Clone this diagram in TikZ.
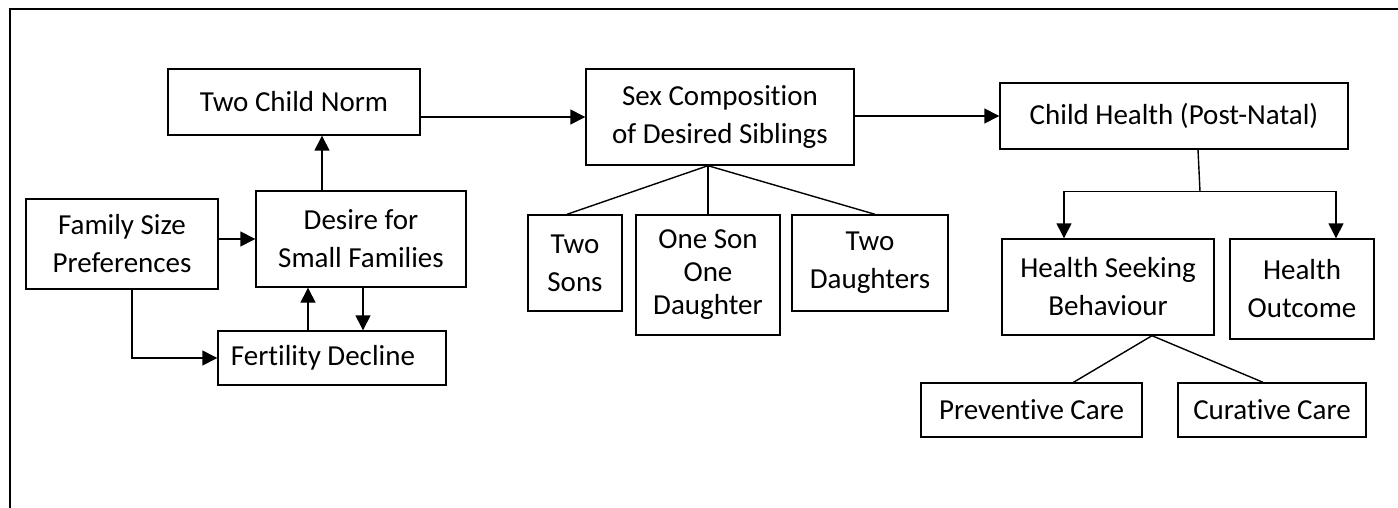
\documentclass[tikz,border=0pt]{standalone}
\usepackage{fontspec}
\setmainfont{Carlito}[Ligatures=NoCommon]
\usepackage{tikz}
\usetikzlibrary{arrows.meta}

\begin{document}
\begin{tikzpicture}[x=1pt, y=-1pt, main/.style = {draw, line width=1.4pt, align=center, inner sep=0pt, font=\fontsize{29}{38}\selectfont}, arr/.style = {line width=1.4pt, -{Triangle[length=15pt,width=15pt]}}, ln/.style = {line width=1.4pt}]
\useasboundingbox (0,0) rectangle (1398,508);
\draw[line width=2.2pt] (10,530) -- (10,9) -- (1420,9);
\node[main, minimum width=252pt, minimum height=66pt] (norm) at (294,102) {Two Child Norm};
\node[main, minimum width=210pt, minimum height=96pt] (desire) at (361,239) {Desire for\\Small Families};
\node[main, minimum width=192pt, minimum height=90pt] (famsize) at (122,244) {Family Size\\Preferences};
\node[main, minimum width=228pt, minimum height=54pt] (fert) at (332,358) {Fertility Decline\hspace*{18pt}};
\node[main, minimum width=268pt, minimum height=96pt] (sexcomp) at (720,117) {Sex Composition\\of Desired Siblings};
\node[main, minimum width=94pt, minimum height=96pt] (sons) at (575,263) {Two\\Sons};
\node[main, minimum width=144pt, minimum height=120pt, font=\fontsize{29}{33}\selectfont] (mixed) at (708,275) {One Son\\One\\Daughter};
\node[main, minimum width=156pt, minimum height=96pt] (daughters) at (870,263) {Two\\Daughters};
\node[main, minimum width=348pt, minimum height=66pt] (child) at (1174,116) {Child Health (Post-Natal)};
\node[main, minimum width=212pt, minimum height=96pt] (seeking) at (1108,287) {Health Seeking\\Behaviour};
\node[main, minimum width=144pt, minimum height=100pt] (outcome) at (1302,289) {Health\\Outcome};
\node[main, minimum width=221pt, minimum height=54pt] (prev) at (1031.5,410) {Preventive Care};
\node[main, minimum width=188pt, minimum height=54pt] (cure) at (1272,410) {Curative Care};
% left part
\draw[arr] ([xshift=-39pt]desire.north) -- ([xshift=-39pt]desire.north |- norm.south);
\draw[arr] (famsize.east |- desire.west) -- (desire.west);
\draw[arr] ([xshift=10pt]famsize.south) |- (fert.west);
\draw[arr] ([xshift=-24pt]fert.north) -- ([xshift=-24pt]fert.north |- desire.south);
\draw[arr] ([xshift=2pt]desire.south) -- ([xshift=2pt]desire.south |- fert.north);
\draw[arr] (norm.east |- sexcomp.west) -- (sexcomp.west);
\draw[arr] (sexcomp.east |- child.west) -- (child.west);
% siblings
\coordinate (split) at ([xshift=-12pt]sexcomp.south);
\draw[ln] (split) -- ([xshift=-8pt]sons.north);
\draw[ln] (split) -- (mixed.north);
\draw[ln] (split) -- ([xshift=5pt]daughters.north);
% health
\coordinate (hsplit) at ([xshift=26pt,yshift=-42pt]child.south);
\draw[ln] ([xshift=24pt]child.south) -- (hsplit);
\draw[arr] (hsplit) -| ([xshift=-44pt]seeking.north);
\draw[arr] (hsplit) -| ([xshift=34pt]outcome.north);
\coordinate (csplit) at ([xshift=44pt]seeking.south);
\draw[ln] (csplit) -- ([xshift=42pt]prev.north);
\draw[ln] (csplit) -- ([xshift=-9pt]cure.north);
\end{tikzpicture}
\end{document}
